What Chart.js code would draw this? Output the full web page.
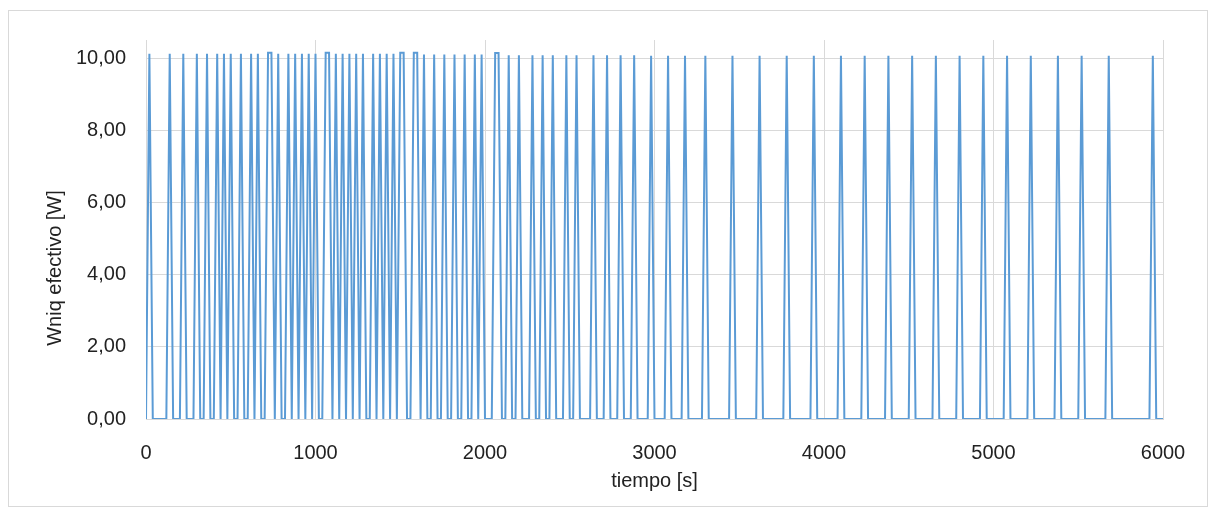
<!DOCTYPE html>
<html>
<head>
<meta charset="utf-8">
<script src="https://cdn.jsdelivr.net/npm/chart.js@4/dist/chart.umd.min.js"></script>
<style>
  html, body { margin: 0; padding: 0; background: #fff; }
  #wrap { position: relative; width: 1216px; height: 513px; }
</style>
</head>
<body>
<div id="wrap"><canvas id="grafico" width="1216" height="513"></canvas></div>
<script>
// Instantes (s) en que la potencia alcanza su pico
const picosTiempo = [20, 140, 220, 300, 360, 420, 460, 500, 560, 620, 660, 720, 740, 780, 840, 880, 920, 960, 1000,
    1060, 1080, 1120, 1160, 1200, 1240, 1280, 1340, 1380, 1420, 1460, 1500, 1520, 1580, 1600, 1640, 1700, 1760,
    1820, 1880, 1940, 1980, 2060, 2080, 2140, 2200, 2280, 2340, 2400, 2480, 2540, 2640, 2720, 2800, 2880, 2980,
    3080, 3180, 3300, 3460, 3620, 3780, 3940, 4100, 4240, 4380, 4520, 4660, 4800, 4940, 5080, 5220, 5380, 5520,
    5680, 5940];
// Valor del pico (W) en cada instante
const picosValor = [10.12, 10.12, 10.12, 10.12, 10.12, 10.12, 10.12, 10.12, 10.12, 10.12, 10.12, 10.15, 10.15, 10.12,
    10.12, 10.12, 10.12, 10.12, 10.12, 10.15, 10.15, 10.12, 10.12, 10.12, 10.12, 10.12, 10.12, 10.12, 10.12, 10.12,
    10.15, 10.15, 10.15, 10.15, 10.1, 10.1, 10.1, 10.1, 10.1, 10.1, 10.1, 10.14, 10.14, 10.08, 10.08, 10.08, 10.08,
    10.08, 10.08, 10.08, 10.08, 10.08, 10.08, 10.08, 10.06, 10.06, 10.06, 10.06, 10.06, 10.06, 10.06, 10.06, 10.06,
    10.06, 10.06, 10.06, 10.06, 10.06, 10.06, 10.06, 10.06, 10.06, 10.06, 10.06, 10.06];
const paso = 20;          // intervalo de muestreo [s]
const tiempoFinal = 6000;
const xTicks = [0, 1000, 2000, 3000, 4000, 5000, 6000];
const yTicks = [0, 2, 4, 6, 8, 10];
const tituloY = 'Wniq efectivo [W]';
const tituloX = 'tiempo [s]';

// Construir la serie: cero entre picos, subida y bajada en un paso
const puntos = [{ x: 0, y: 0 }];
picosTiempo.forEach((t, i) => {
    const ultimo = puntos[puntos.length - 1];
    if (ultimo.x < t - paso) puntos.push({ x: t - paso, y: 0 });
    puntos.push({ x: t, y: picosValor[i] });
    if (picosTiempo[i + 1] !== t + paso) puntos.push({ x: t + paso, y: 0 });
});
puntos.push({ x: tiempoFinal, y: 0 });

const fuente = { family: '"Liberation Sans", Arial, sans-serif', size: 20 };
const colorTexto = '#222';
const colorRejilla = '#d9d9d9';

// Fondo, borde exterior y título del eje Y (desplazado como en el original)
const decoracion = {
    id: 'decoracion',
    beforeDraw(chart) {
        const ctx = chart.ctx;
        ctx.save();
        ctx.fillStyle = '#fff';
        ctx.fillRect(0, 0, chart.width, chart.height);
        ctx.strokeStyle = colorRejilla;
        ctx.lineWidth = 1;
        ctx.strokeRect(8.5, 10.5, 1199, 496);
        ctx.restore();
    },
    afterDraw(chart) {
        const ctx = chart.ctx;
        ctx.save();
        ctx.translate(55, 268);
        ctx.rotate(-Math.PI / 2);
        ctx.font = `${fuente.size}px ${fuente.family}`;
        ctx.fillStyle = colorTexto;
        ctx.textAlign = 'center';
        ctx.textBaseline = 'middle';
        ctx.fillText(tituloY, 0, 0);
        ctx.restore();
    }
};

new Chart(document.getElementById('grafico').getContext('2d'), {
    type: 'line',
    data: {
        datasets: [{
            label: tituloY,
            data: puntos,
            borderColor: '#5B9BD5',
            borderWidth: 2,
            pointRadius: 0,
            tension: 0,
            fill: false
        }]
    },
    options: {
        responsive: false,
        animation: false,
        layout: { padding: { left: 0, right: 53, top: 40, bottom: 0 } },
        plugins: {
            legend: { display: false },
            tooltip: { enabled: false }
        },
        scales: {
            x: {
                type: 'linear',
                min: 0,
                max: tiempoFinal,
                afterBuildTicks: axis => { axis.ticks = xTicks.map(v => ({ value: v })); },
                afterFit: axis => { axis.height = 94; },
                grid: { color: colorRejilla, drawTicks: false },
                border: { color: colorRejilla },
                ticks: { color: colorTexto, font: fuente, padding: 22, maxRotation: 0, callback: v => String(v) },
                title: { display: true, text: tituloX, color: colorTexto, font: fuente, padding: { top: 0, bottom: 20 } }
            },
            y: {
                min: 0,
                max: 10.5,
                afterBuildTicks: axis => { axis.ticks = yTicks.map(v => ({ value: v })); },
                afterFit: axis => { axis.width = 146; },
                grid: { color: colorRejilla, drawTicks: false },
                border: { color: colorRejilla },
                ticks: {
                    color: colorTexto,
                    font: fuente,
                    padding: 20,
                    callback: v => v.toFixed(2).replace('.', ',')
                }
            }
        }
    },
    plugins: [decoracion]
});
</script>
</body>
</html>
